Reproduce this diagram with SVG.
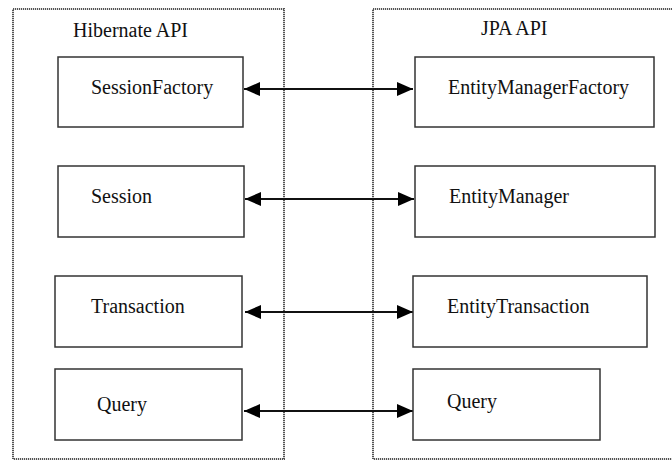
<svg xmlns="http://www.w3.org/2000/svg" width="672" height="461" viewBox="0 0 672 461">
<style>
.bg{fill:#fff}
.cont{fill:none;stroke:#555;stroke-width:2;stroke-dasharray:1.2 0.8}
.box{fill:#fff;stroke:#333;stroke-width:1.5}
text{font-size:20px;fill:#111}
.conn{stroke:#111;stroke-width:2;fill:none;marker-start:url(#ah);marker-end:url(#ah)}
</style>
<defs>
<marker id="ah" viewBox="0 0 16 14" refX="16" refY="7" markerWidth="16" markerHeight="14" markerUnits="userSpaceOnUse" orient="auto-start-reverse">
<path d="M0,0 L16,7 L0,14 Z" fill="#000"/>
</marker>
</defs>
<rect class="bg" x="0" y="0" width="672" height="461"/>
<g font-family="Liberation Serif, Times New Roman, serif">
<g id="hibernate-api">
<rect class="cont" x="13" y="9" width="271" height="450"/>
<text x="73" y="37">Hibernate API</text>
</g>
<g id="jpa-api">
<rect class="cont" x="373" y="9" width="310" height="450"/>
<text x="481" y="35">JPA API</text>
</g>
<g id="connectors">
<line class="conn" x1="244" y1="89" x2="413" y2="89"/>
<line class="conn" x1="245" y1="199" x2="414" y2="199"/>
<line class="conn" x1="245" y1="312" x2="413" y2="312"/>
<line class="conn" x1="244" y1="411" x2="413" y2="411"/>
</g>
<g id="sessionfactory">
<rect class="box" x="58" y="57" width="185" height="70"/>
<text x="91" y="94">SessionFactory</text>
</g>
<g id="entitymanagerfactory">
<rect class="box" x="415" y="57" width="239" height="70"/>
<text x="448" y="94">EntityManagerFactory</text>
</g>
<g id="session">
<rect class="box" x="58" y="166" width="186" height="71"/>
<text x="91" y="203">Session</text>
</g>
<g id="entitymanager">
<rect class="box" x="415" y="166" width="240" height="71"/>
<text x="449" y="203">EntityManager</text>
</g>
<g id="transaction">
<rect class="box" x="55" y="276" width="187" height="71"/>
<text x="91" y="313">Transaction</text>
</g>
<g id="entitytransaction">
<rect class="box" x="413" y="276" width="234" height="71"/>
<text x="447" y="313">EntityTransaction</text>
</g>
<g id="query-hibernate">
<rect class="box" x="55" y="369" width="187" height="71"/>
<text x="97" y="411">Query</text>
</g>
<g id="query-jpa">
<rect class="box" x="413" y="369" width="187" height="71"/>
<text x="447" y="408">Query</text>
</g>
</g>
</svg>
